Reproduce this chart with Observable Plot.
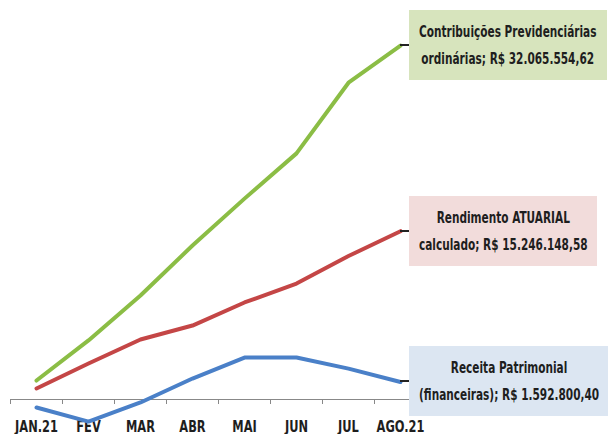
<!DOCTYPE html>
<html>
<head>
<meta charset="utf-8">
<script src="https://cdn.jsdelivr.net/npm/d3@7"></script>
<script src="https://cdn.jsdelivr.net/npm/@observablehq/plot@0.6"></script>
<style>
  html, body { margin: 0; padding: 0; background: #fff; }
  #chart { position: relative; width: 608px; height: 434px; overflow: hidden; }
  .box { position: absolute; display: flex; align-items: center; }
  .leader { width: 9px; height: 2px; background: #222; }
  .label { padding: 8px 10px; box-sizing: content-box; }
  .txt {
    font-family: "DejaVu Sans", sans-serif; font-stretch: condensed;
    font-weight: bold; font-size: 16.5px; color: #1e1e1e; text-align: center;
    line-height: 27px; white-space: nowrap; display: inline-block;
    transform-origin: 0 0;
  }
  svg text { font-stretch: condensed; }
</style>
</head>
<body>
<div id="chart"></div>
<script>
const months = ["JAN.21", "FEV", "MAR", "ABR", "MAI", "JUN", "JUL", "AGO.21"];
// values in R$ millions (accumulated)
const contribuicoes = [1.72, 5.35, 9.42, 13.95, 18.2, 22.3, 28.7, 32.07];
const rendimento = [1.0, 3.26, 5.44, 6.7, 8.79, 10.5, 13.0, 15.25];
const receita = [-0.72, -2.0, -0.27, 1.9, 3.8, 3.8, 2.8, 1.59];

const seriesNames = ["Contribuições", "Rendimento", "Receita"];
const seriesColors = ["#8bbd45", "#c44646", "#4a80c8"];
const seriesValues = [contribuicoes, rendimento, receita];
const labelLines = [
  ["Contribuições Previdenciárias", "ordinárias;  R$ 32.065.554,62"],
  ["Rendimento ATUARIAL", "calculado;  R$ 15.246.148,58"],
  ["Receita Patrimonial", "(financeiras);  R$ 1.592.800,40"]
];
const boxColors = ["#d7e4bd", "#f2dcdb", "#dce6f2"];

const data = seriesNames.flatMap((s, k) =>
  months.map((m, i) => ({series: s, i, value: seriesValues[k][i]})));

const idx = months.map((_, i) => i);
const bounds = d3.range(months.length + 1).map(i => i - 0.5);

const plot = Plot.plot({
  width: 608,
  height: 434,
  marginLeft: 10,
  marginRight: 182,
  marginTop: 0,
  marginBottom: 35,
  x: {type: "linear", domain: [-0.5, months.length - 0.5], axis: null},
  y: {domain: [0, 36.15], axis: null},
  color: {domain: seriesNames, range: seriesColors},
  style: {background: "white"},
  marks: [
    Plot.axisX({ticks: idx, tickSize: 0, tickPadding: 21, tickFormat: i => months[i],
      fontFamily: "'DejaVu Sans', sans-serif",
      fontWeight: "bold", fontSize: 15.5, fill: "#1e1e1e", label: null}),
    Plot.axisX({ticks: bounds, tickSize: 5, tickFormat: () => "", stroke: "#888", label: null}),
    Plot.ruleY([0], {stroke: "#888", strokeWidth: 1.2}),
    Plot.line(data, {x: "i", y: "value", stroke: "series", strokeWidth: 4, curve: "linear"})
  ]
});

const chart = document.getElementById("chart");
chart.appendChild(plot);

// condense axis tick labels horizontally (narrow font look), about each label's own x
d3.select(plot).selectAll('g[aria-label="x-axis tick label"] text').each(function() {
  const t = this.getAttribute("transform") || "";
  const x = parseFloat(this.getAttribute("x")) || 0;
  this.setAttribute("transform", `${t} translate(${x},0) scale(0.82,1) translate(${-x},0)`);
});

const xs = plot.scale("x"), ys = plot.scale("y");
const last = months.length - 1;
const sx = 0.71;
seriesValues.forEach((vals, k) => {
  const px = xs.apply(last), py = ys.apply(vals[last]);
  const box = document.createElement("div");
  box.className = "box";
  box.style.left = px + "px";
  box.style.top = py + "px";
  box.style.transform = "translateY(-50%)";
  const leader = document.createElement("div");
  leader.className = "leader";
  const label = document.createElement("div");
  label.className = "label";
  label.style.background = boxColors[k];
  const txt = document.createElement("div");
  txt.className = "txt";
  txt.innerHTML = labelLines[k].join("<br>");
  label.appendChild(txt);
  box.appendChild(leader);
  box.appendChild(label);
  chart.appendChild(box);
  const w = txt.offsetWidth;
  txt.style.transform = `scaleX(${sx})`;
  label.style.width = (w * sx) + "px";
  label.style.overflow = "visible";
});
</script>
</body>
</html>
